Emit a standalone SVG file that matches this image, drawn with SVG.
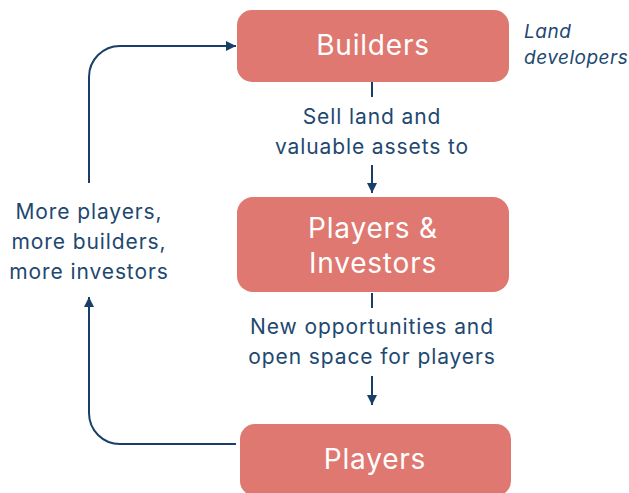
<svg xmlns="http://www.w3.org/2000/svg" width="629" height="493" viewBox="0 0 629 493">
<defs>
<style>
.box{fill:#DF7870;}
.bt{font-family:Inter,"Liberation Sans",sans-serif;font-size:28px;letter-spacing:0.8px;fill:#ffffff;text-anchor:middle;}
.lt{font-family:Inter,"Liberation Sans",sans-serif;font-size:21px;letter-spacing:0.9px;fill:#1E4870;text-anchor:middle;}
.it{font-family:Inter,"Liberation Sans",sans-serif;font-size:19px;letter-spacing:0.5px;fill:#1E4870;font-style:italic;}
.ln{fill:none;stroke:#173F67;stroke-width:2;}
</style>
<marker id="ah" viewBox="0 0 10 10" refX="10" refY="5" markerWidth="10" markerHeight="10" markerUnits="userSpaceOnUse" orient="auto">
<path d="M0,0 L10,5 L0,10 z" fill="#173F67"/>
</marker>
</defs>
<rect width="629" height="493" fill="#ffffff"/>
<g id="connectors">
<line class="ln" x1="372" y1="82" x2="372" y2="97"/>
<line class="ln" x1="372" y1="165" x2="372" y2="193" marker-end="url(#ah)"/>
<line class="ln" x1="372" y1="293" x2="372" y2="308"/>
<line class="ln" x1="372" y1="376" x2="372" y2="405" marker-end="url(#ah)"/>
<path class="ln" d="M236,444 H120 A31,31 0 0 1 89,413 V297" marker-end="url(#ah)"/>
<path class="ln" d="M89,183 V77 A31,31 0 0 1 120,46 H236" marker-end="url(#ah)"/>
<text class="lt" x="372" y="124">Sell land and</text>
<text class="lt" x="372" y="154">valuable assets to</text>
<text class="lt" x="372" y="334">New opportunities and</text>
<text class="lt" x="372" y="364">open space for players</text>
<text class="lt" x="89" y="219">More players,</text>
<text class="lt" x="89" y="249">more builders,</text>
<text class="lt" x="89" y="279">more investors</text>
</g>
<g id="builders">
<rect class="box" x="237" y="10" width="272" height="72" rx="15"/>
<text class="bt" x="373" y="55">Builders</text>
</g>
<g id="land-developers">
<text class="it" x="524" y="38">Land</text>
<text class="it" x="524" y="64">developers</text>
</g>
<g id="players-investors">
<rect class="box" x="237" y="197" width="272" height="95" rx="16"/>
<text class="bt" x="373" y="238">Players &amp;</text>
<text class="bt" x="373" y="273">Investors</text>
</g>
<g id="players">
<rect class="box" x="240" y="424" width="271" height="72" rx="15"/>
<text class="bt" x="375" y="469">Players</text>
</g>
</svg>
